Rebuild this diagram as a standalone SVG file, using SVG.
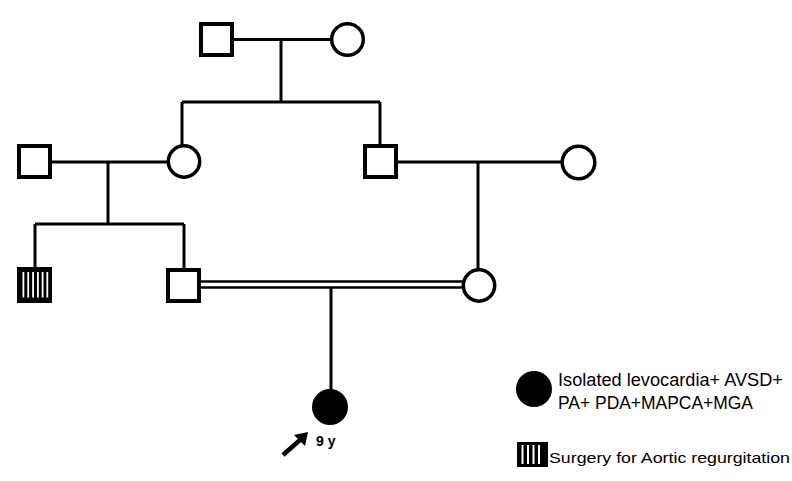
<svg xmlns="http://www.w3.org/2000/svg" width="792" height="481" viewBox="0 0 792 481">
<style>
.sq{fill:#fff;stroke:#000;stroke-width:4}
.ci{fill:#fff;stroke:#000;stroke-width:3.5}
.ln{stroke:#000;stroke-width:3;fill:none}
.dbl{stroke:#000;stroke-width:2.5;fill:none}
.lbl{font-family:"Liberation Sans",Arial,sans-serif;fill:#000}
</style>
<rect width="792" height="481" fill="#fff"/>
<g id="connectors">
<line class="ln" x1="232" y1="39.5" x2="331" y2="39.5"/>
<line class="ln" x1="281" y1="39.5" x2="281" y2="102"/>
<line class="ln" x1="182" y1="102" x2="380" y2="102"/>
<line class="ln" x1="182" y1="102" x2="182" y2="146"/>
<line class="ln" x1="380" y1="102" x2="380" y2="146"/>
<line class="ln" x1="50" y1="162" x2="169" y2="162"/>
<line class="ln" x1="108" y1="162" x2="108" y2="224"/>
<line class="ln" x1="35" y1="224" x2="184" y2="224"/>
<line class="ln" x1="35" y1="224" x2="35" y2="269"/>
<line class="ln" x1="184" y1="224" x2="184" y2="270"/>
<line class="ln" x1="396" y1="162" x2="562" y2="162"/>
<line class="ln" x1="478" y1="162" x2="478" y2="270"/>
<line class="dbl" x1="199" y1="281.5" x2="464" y2="281.5"/>
<line class="dbl" x1="199" y1="287.5" x2="464" y2="287.5"/>
<line class="ln" x1="331" y1="288" x2="331" y2="390"/>
</g>
<g id="I-1"><rect class="sq" x="201" y="24" width="31" height="31"/></g>
<g id="I-2"><circle class="ci" cx="347.5" cy="39.5" r="15.8"/></g>
<g id="II-1"><rect class="sq" x="19" y="146" width="31" height="31"/></g>
<g id="II-2"><circle class="ci" cx="184" cy="161.5" r="15.7"/></g>
<g id="II-3"><rect class="sq" x="365" y="146" width="31" height="31"/></g>
<g id="II-4"><circle class="ci" cx="578.5" cy="162.5" r="16.3"/></g>
<g id="III-1">
<rect x="17" y="267" width="35" height="36" fill="#000"/>
<rect x="22.5" y="272" width="1.8" height="25.5" fill="#fff"/>
<rect x="27.3" y="272" width="1.8" height="25.5" fill="#fff"/>
<rect x="32.2" y="272" width="1.8" height="25.5" fill="#fff"/>
<rect x="37" y="272" width="1.8" height="25.5" fill="#fff"/>
<rect x="41.7" y="272" width="1.8" height="25.5" fill="#fff"/>
<rect x="46.4" y="272" width="1.8" height="25.5" fill="#fff"/>
</g>
<g id="III-2"><rect class="sq" x="168" y="270" width="31" height="31"/></g>
<g id="III-3"><circle class="ci" cx="479" cy="285.5" r="15.7"/></g>
<g id="IV-1">
<circle cx="330" cy="407" r="18" fill="#000"/>
<line x1="283" y1="455" x2="300" y2="440" stroke="#000" stroke-width="4.5"/>
<polygon points="308,432 294,435 305,446" fill="#000"/>
<text class="lbl" x="316" y="446" font-size="14" font-weight="bold">9 y</text>
</g>
<g id="legend">
<circle cx="534" cy="389" r="18" fill="#000"/>
<text class="lbl" x="558" y="386" font-size="17.5" textLength="225" lengthAdjust="spacingAndGlyphs">Isolated levocardia+ AVSD+</text>
<text class="lbl" x="558" y="409" font-size="17.5" textLength="195" lengthAdjust="spacingAndGlyphs">PA+ PDA+MAPCA+MGA</text>
<rect x="517" y="442" width="31" height="25" fill="#000"/>
<rect x="521.5" y="445" width="2" height="19" fill="#fff"/>
<rect x="527" y="445" width="2" height="19" fill="#fff"/>
<rect x="532.5" y="445" width="2" height="19" fill="#fff"/>
<rect x="538" y="445" width="2" height="19" fill="#fff"/>
<text class="lbl" x="549" y="463" font-size="15" textLength="241" lengthAdjust="spacingAndGlyphs">Surgery for Aortic regurgitation</text>
</g>
</svg>
